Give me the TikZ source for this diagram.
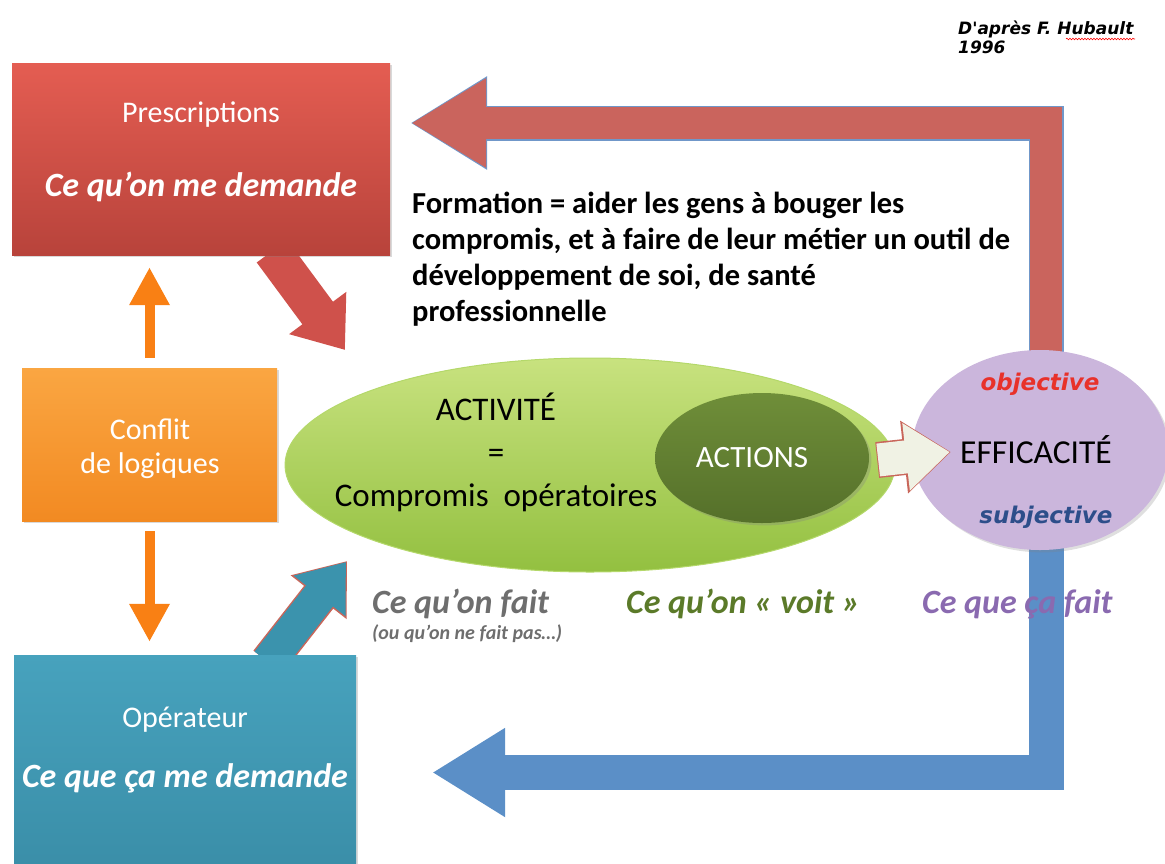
\documentclass[tikz,border=0pt]{standalone}
\usepackage{fontspec}
\setmainfont{Carlito}
\newfontfamily\dejavu{DejaVu Sans}
\usetikzlibrary{arrows.meta,shapes.geometric,backgrounds,shadows,decorations.pathmorphing}

\definecolor{prescTop}{HTML}{E45D52}
\definecolor{prescBot}{HTML}{B8433B}
\definecolor{confTop}{HTML}{FAA642}
\definecolor{confBot}{HTML}{F28A22}
\definecolor{opTop}{HTML}{47A2BD}
\definecolor{opBot}{HTML}{3A8EA8}
\definecolor{orangeArr}{HTML}{F98014}
\definecolor{redDiag}{HTML}{CF514B}
\definecolor{tealDiag}{HTML}{3B93AD}
\definecolor{actTop}{HTML}{C8E27F}
\definecolor{actBot}{HTML}{93C040}
\definecolor{actEdge}{HTML}{B4D86A}
\definecolor{actionsTop}{HTML}{6F8E39}
\definecolor{actionsBot}{HTML}{55702A}
\definecolor{lavender}{HTML}{CBB6DC}
\definecolor{cream}{HTML}{F0F2E4}
\definecolor{creamEdge}{HTML}{C9665A}
\definecolor{redL}{HTML}{CA645D}
\definecolor{redLEdge}{HTML}{7097C9}
\definecolor{blueL}{HTML}{5B8FC7}
\definecolor{grayText}{HTML}{6E6E6E}
\definecolor{oliveText}{HTML}{5B7A29}
\definecolor{purpleText}{HTML}{8A6AB0}
\definecolor{objRed}{HTML}{E8312A}
\definecolor{subjBlue}{HTML}{2D4E8A}

\newcommand{\fsz}[2]{\fontsize{#1}{#2}\selectfont}

\tikzset{
  box/.style={rectangle, inner sep=0pt, drop shadow={opacity=0.3}},
  boxtext/.style={text=white, inner sep=0pt, align=center},
  bubble/.style={ellipse, inner sep=0pt},
  plain/.style={inner sep=0pt, anchor=west},
  fat/.style={line width=#1, line join=miter},
}

\begin{document}
\begin{tikzpicture}[x=1pt,y=-1pt]
  \useasboundingbox (0,0) rectangle (1165,863);

  % Left column: three boxes
  \node[box, top color=prescTop, bottom color=prescBot,
        minimum width=378pt, minimum height=192pt] (presc) at (201,159) {};
  \node[boxtext, font=\fsz{30}{34}] (prescA) at (201,115) {Prescriptions};
  \node[boxtext, font=\fsz{34}{38}\bfseries\itshape] (prescB) at (201,187) {Ce qu’on me demande};

  \node[box, top color=confTop, bottom color=confBot,
        minimum width=255pt, minimum height=153pt] (conflit) at (149.5,444.5) {};
  \node[boxtext, font=\fsz{30}{34}] (conflitT) at (150,449) {Conflit\\de logiques};

  \node[box, top color=opTop, bottom color=opBot,
        minimum width=342pt, minimum height=215pt] (operateur) at (185,762.5) {};
  \node[boxtext, font=\fsz{30}{34}] (opA) at (185,720) {Opérateur};
  \node[boxtext, font=\fsz{34}{38}\bfseries\itshape] (opB) at (185,778) {Ce que ça me demande};

  % Middle: activity and actions
  \node[bubble, top color=actTop, bottom color=actBot, draw=actEdge, line width=1pt,
        minimum width=610pt, minimum height=214pt] (activite) at (590,465) {};
  \node[inner sep=0pt, align=center, font=\fsz{33}{43}] (activiteT) at (496,452)
    {ACTIVITÉ\\=\\Compromis\ \ opératoires};
  \node[bubble, top color=actionsTop, bottom color=actionsBot, drop shadow={opacity=0.3},
        minimum width=214pt, minimum height=130pt] (actions) at (762,458) {};
  \node[boxtext, font=\fsz{31}{34}] (actionsT) at (752,458) {ACTIONS};

  % Right: efficacy
  \node[bubble, fill=lavender, drop shadow={opacity=0.25},
        minimum width=256pt, minimum height=200pt] (efficacite) at (1040,450) {};
  \node[inner sep=0pt, text=objRed, font=\fsz{23}{26}\dejavu\bfseries\itshape]
    (objT) at (1040,384) {objective};
  \node[inner sep=0pt, font=\fsz{33.5}{36}] (effT) at (1036,450) {EFFICACITÉ};
  \node[inner sep=0pt, text=subjBlue, font=\fsz{23}{26}\dejavu\bfseries\itshape]
    (subjT) at (1046,517) {subjective};

  % Texts
  \node[plain, align=left, font=\fsz{30.5}{36}\bfseries] (formation) at (412,259)
    {Formation = aider les gens à bouger les\\
     compromis, et à faire de leur métier un outil de\\
     développement de soi, de santé\\
     professionnelle};
  \node[plain, text=grayText, font=\fsz{34}{38}\bfseries\itshape] (fait) at (372,604)
    {Ce qu’on fait};
  \node[plain, text=grayText, font=\fsz{20}{24}\bfseries\itshape] (faitpas) at (372,634)
    {(ou qu’on ne fait pas…)};
  \node[plain, text=oliveText, font=\fsz{34}{38}\bfseries\itshape] (voit) at (626,604)
    {Ce qu’on « voit »};
  \node[plain, text=purpleText, font=\fsz{34}{38}\bfseries\itshape] (cafait) at (922,604)
    {Ce que ça fait};
  \node[plain, align=left, font=\fsz{17}{19}\dejavu\bfseries\itshape] (source) at (958,37)
    {D'après F. Hubault\\1996};
  \draw[red, line width=0.6pt, decorate,
        decoration={snake, amplitude=0.8pt, segment length=3pt}]
    (1066,39) -- (1135,39);

  % Arrow ends
  \coordinate (redTip) at (345,350);
  \coordinate (tealTip) at (346,562);
  \coordinate (tealFoot) at (268,662);

  % Connectors behind the shapes
  \begin{scope}[on background layer]
    \draw[fat=10pt, orangeArr, shorten <=10pt, shorten >=12pt,
          -{Triangle[length=38pt,width=38pt]}]
      (conflit.north) -- (conflit.north |- presc.south);
    \draw[fat=10pt, orangeArr, shorten <=10pt, shorten >=13pt,
          -{Triangle[length=38pt,width=38pt]}]
      (conflit.south) -- (conflit.south |- operateur.north);

    \draw[fat=38pt, redDiag, -{Triangle[length=46pt,width=68pt]}]
      ([xshift=71pt,yshift=4pt]presc.south) -- (redTip);

    \draw[fat=37pt, creamEdge, -{Triangle[length=46pt,width=68pt]}]
      (tealFoot) -- ([shift={(1pt,1pt)}]tealTip);
    \draw[fat=34pt, tealDiag, -{Triangle[length=43pt,width=63pt]}]
      (tealFoot) -- (tealTip);

    \draw[fat=35pt, redLEdge, -{Triangle[length=77pt,width=88pt]}]
      ([xshift=6pt,yshift=-10pt]efficacite.north) |- ([xshift=20pt,yshift=36pt]presc.east);
    \draw[fat=32pt, redL, -{Triangle[length=75pt,width=84pt]}]
      ([xshift=6pt,yshift=-10pt]efficacite.north) |- ([xshift=21pt,yshift=36pt]presc.east);

    \draw[fat=35pt, blueL, -{Triangle[length=73pt,width=84pt]}]
      ([xshift=6pt,yshift=10pt]efficacite.south) |- ([xshift=76pt,yshift=-10pt]operateur.east);
  \end{scope}

  % Actions to efficacy, on top
  \draw[fat=36pt, creamEdge, -{Triangle[length=47pt,width=70pt]}]
    ([xshift=8pt,yshift=-2pt]actions.east) -- ([xshift=39pt,yshift=-2pt]efficacite.west);
  \draw[fat=33pt, cream, -{Triangle[length=44pt,width=65pt]}]
    ([xshift=9pt,yshift=-2pt]actions.east) -- ([xshift=38pt,yshift=-2pt]efficacite.west);
\end{tikzpicture}
\end{document}
